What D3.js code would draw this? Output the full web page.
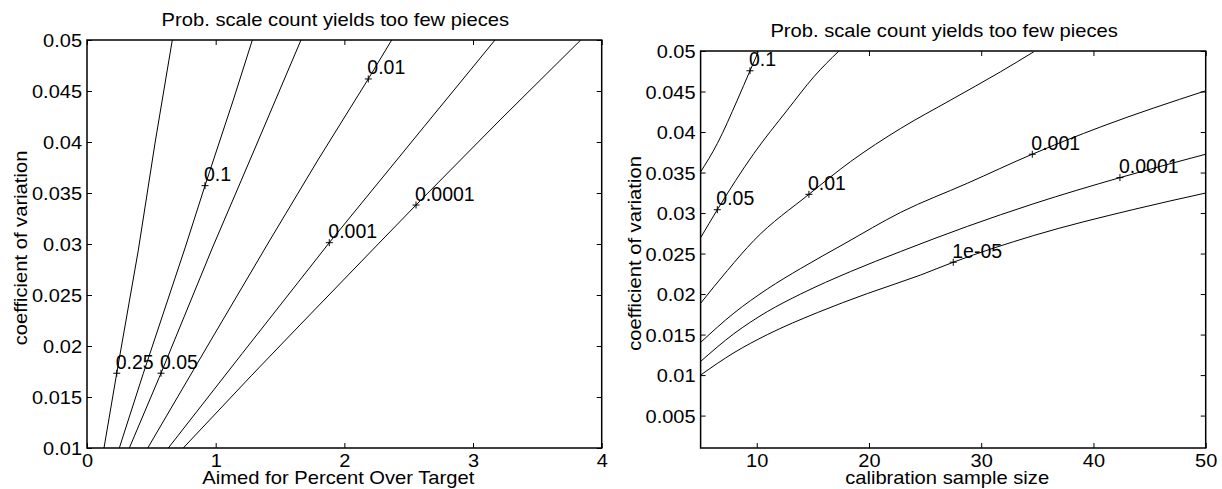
<!DOCTYPE html>
<html>
<head>
<meta charset="utf-8">
<script src="https://cdn.jsdelivr.net/npm/d3@7"></script>
<style>
  body { margin:0; background:#fff; }
  text { font-family: "Liberation Sans", Arial, sans-serif; fill:#000; }
</style>
</head>
<body>
<div id="chart"></div>
<script>
// left panel: contour lines (x = percent over target, y = cv)
let leftLevels = ["0.25","0.1","0.05","0.01","0.001","0.0001"]
let left025 = [[0.132,0.01],[0.231,0.01733],[0.399,0.02941],[0.530,0.0400],[0.663,0.05]]
let left01 = [[0.251,0.01],[0.438,0.01733],[0.762,0.02961],[0.917,0.03572],[1.137,0.04412],[1.285,0.05]]
let left005 = [[0.329,0.01],[0.575,0.01733],[0.974,0.02961],[1.300,0.03922],[1.663,0.05]]
let left001 = [[0.472,0.01],[0.964,0.02059],[1.422,0.03039],[1.795,0.03824],[2.186,0.04618],[2.368,0.05]]
let left0001 = [[0.632,0.01],[1.207,0.01928],[1.883,0.03013],[2.619,0.0415],[3.171,0.05]]
let left00001 = [[0.748,0.01],[1.280,0.01713],[1.655,0.02206],[2.293,0.03039],[2.557,0.03382],[3.210,0.04216],[3.837,0.05]]
let leftLines = [left025,left01,left005,left001,left0001,left00001]
let leftLabelAt = [[0.231,0.01733],[0.917,0.03572],[0.575,0.01733],[2.186,0.04618],[1.883,0.03013],[2.557,0.03382]]
let leftXTicks = [0,1,2,3,4]
let leftYTicks = [0.01,0.015,0.02,0.025,0.03,0.035,0.04,0.045,0.05]

// right panel: contour lines (x = calibration sample size, y = cv)
let rightLevels = ["0.1","0.05","0.01","0.001","0.0001","1e-05"]
let right01 = [[5,0.03507],[6.49,0.03858],[8.27,0.04394],[9.40,0.04756],[10.14,0.04991]]
let right005 = [[5,0.02695],[6.49,0.03041],[9.74,0.03734],[12.72,0.0427],[15.09,0.04682],[17.32,0.05]]
let right001 = [[5,0.01886],[7.38,0.0229],[9.75,0.02662],[14.65,0.03231],[18.36,0.03635],[22.82,0.04044],[27.27,0.04394],[31.73,0.04744],[34.69,0.04991]]
let right0001 = [[5,0.01403],[7.97,0.01765],[10.94,0.02062],[13.91,0.02315],[17.77,0.02618],[22.82,0.03008],[28.76,0.03367],[34.55,0.03726],[40.64,0.04063],[50,0.04509]]
let right00001 = [[5,0.01168],[7.97,0.01511],[10.94,0.01783],[13.91,0.02],[18.36,0.02278],[22.82,0.02525],[28.76,0.02835],[34.69,0.03116],[42.36,0.03437],[50,0.03726]]
let right1e5 = [[5,0.01],[7.97,0.01276],[10.94,0.01499],[15.40,0.01771],[19.85,0.02006],[24.6,0.02235],[27.51,0.02393],[34.69,0.02723],[43.6,0.03045],[50,0.03247]]
let rightLines = [right01,right005,right001,right0001,right00001,right1e5]
let rightLabelAt = [[9.40,0.04756],[6.49,0.03041],[14.65,0.03231],[34.55,0.03726],[42.36,0.03437],[27.51,0.02393]]
let rightXTicks = [10,20,30,40,50]
let rightYTicks = [0.005,0.01,0.015,0.02,0.025,0.03,0.035,0.04,0.045,0.05]

let title = "Prob. scale count yields too few pieces"
let yTitle = "coefficient of variation"

let width = 1222, height = 489
let svg = d3.select("#chart").append("svg").attr("width",width).attr("height",height)

function stretch(k){
  return sel => sel.each(function(){
    let w = this.getComputedTextLength()
    this.setAttribute("textLength", w*k)
    this.setAttribute("lengthAdjust","spacingAndGlyphs")
  })
}

function panel(o){
  let xScale = d3.scaleLinear().domain(o.xDomain).range([o.x0,o.x1])
  let yScale = d3.scaleLinear().domain(o.yDomain).range([o.y1,o.y0])
  let g = svg.append("g")

  g.append("clipPath").attr("id",o.id).append("rect")
    .attr("x",o.x0).attr("y",o.y0).attr("width",o.x1-o.x0).attr("height",o.y1-o.y0)

  let line = d3.line().x(d=>xScale(d[0])).y(d=>yScale(d[1])).curve(o.curve)
  g.append("g").attr("clip-path",`url(#${o.id})`)
    .selectAll("path").data(o.lines).enter().append("path")
    .attr("d",d=>line(d)).attr("fill","none").attr("stroke","#000").attr("stroke-width",1)

  // axes with inward ticks, mirrored on top/right
  let xAxis = d3.axisBottom(xScale).tickValues(o.xTicks).tickSize(-5).tickFormat(d3.format("~g"))
  let yAxis = d3.axisLeft(yScale).tickValues(o.yTicks).tickSize(-5).tickPadding(5).tickFormat(d3.format("~g"))
  let xTop = d3.axisTop(xScale).tickValues(o.xTicks).tickSize(-5).tickFormat("")
  let yRight = d3.axisRight(yScale).tickValues(o.yTicks).tickSize(-5).tickFormat("")

  let xg = g.append("g").attr("transform",`translate(0,${o.y1})`).call(xAxis)
  let yg = g.append("g").attr("transform",`translate(${o.x0},0)`).call(yAxis)
  let tg = g.append("g").attr("transform",`translate(0,${o.y0})`).call(xTop)
  let rg = g.append("g").attr("transform",`translate(${o.x1},0)`).call(yRight)
  ;[xg,yg,tg,rg].forEach(a=>{
    a.select(".domain").remove()
    a.selectAll("line").attr("stroke","#000")
  })
  xg.selectAll("text").attr("font-size","18.5px").attr("y",19).attr("dy",0).call(stretch(1.08))
  yg.selectAll("text").attr("font-size","18.5px").attr("dy","0.36em").call(stretch(1.08))

  g.append("rect").attr("x",o.x0).attr("y",o.y0).attr("width",o.x1-o.x0).attr("height",o.y1-o.y0)
    .attr("fill","none").attr("stroke","#000").attr("stroke-width",1.5)

  // contour labels
  let lab = g.selectAll(".clab").data(o.labels).enter().append("g").attr("class","clab")
    .attr("transform",(d,i)=>`translate(${xScale(o.labelAt[i][0])},${yScale(o.labelAt[i][1])})`)
  lab.append("path").attr("d","M-3.5,0H3.5M0,-3.5V3.5").attr("stroke","#000").attr("stroke-width",1)
  lab.append("text").attr("x",-1).attr("y",-4.5).attr("font-size","19.5px").text(d=>d)

  g.append("text").attr("x",(o.x0+o.x1)/2 - 9).attr("y",o.y0-14).attr("text-anchor","middle")
    .attr("font-size","18.5px").text(title).call(stretch(1.09))
  g.append("text").attr("x",(o.x0+o.x1)/2 - 6).attr("y",484).attr("text-anchor","middle")
    .attr("font-size","18.5px").text(o.xTitle).call(stretch(1.09))
  g.append("text").attr("transform",`translate(${o.x0-60},${(o.y0+o.y1)/2+4}) rotate(-90)`)
    .attr("text-anchor","middle").attr("font-size","18.5px").text(yTitle).call(stretch(1.09))
}

panel({id:"cl", x0:87, x1:601.7, y0:40, y1:448, xDomain:[0,4], yDomain:[0.01,0.05],
  lines:leftLines, labels:leftLevels, labelAt:leftLabelAt, xTicks:leftXTicks, yTicks:leftYTicks,
  xTitle:"Aimed for Percent Over Target", curve:d3.curveLinear})
panel({id:"cr", x0:700.6, x1:1205.7, y0:51, y1:448, xDomain:[5,50], yDomain:[0.001,0.05],
  lines:rightLines, labels:rightLevels, labelAt:rightLabelAt, xTicks:rightXTicks, yTicks:rightYTicks,
  xTitle:"calibration sample size", curve:d3.curveMonotoneX})
</script>
</body>
</html>
